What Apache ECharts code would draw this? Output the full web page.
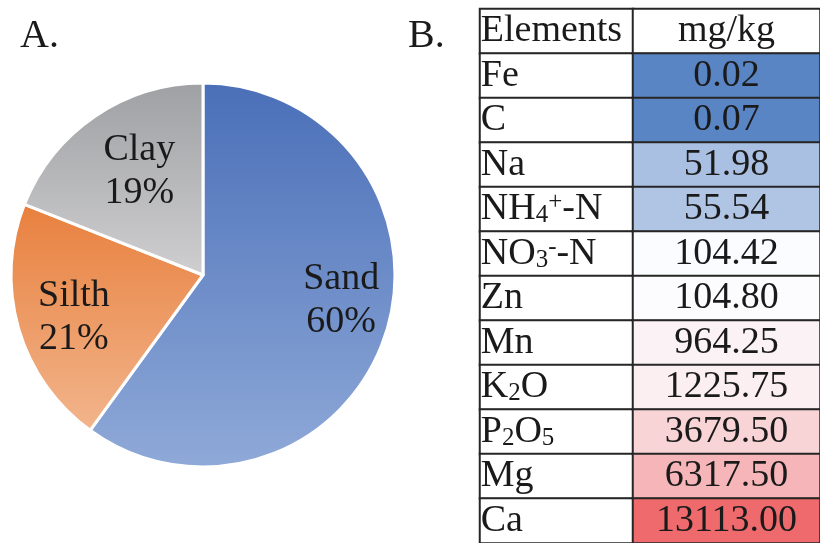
<!DOCTYPE html>
<html>
<head>
<meta charset="utf-8">
<script src="https://cdn.jsdelivr.net/npm/echarts@6/dist/echarts.min.js"></script>
<style>
  html, body { margin: 0; padding: 0; background: #fff; }
  #main { width: 820px; height: 543px; }
</style>
</head>
<body>
<div id="main"></div>
<script>
// A. soil texture
var soilClasses = ['Sand', 'Silth', 'Clay'];
var soilShares = [60, 21, 19];

// B. elements table
var tableHeader = ['Elements', 'mg/kg'];
var elementNames = ['Fe', 'C', 'Na', 'NH{sub|4}{sup|+}-N', 'NO{sub|3}{sup|-}-N', 'Zn', 'Mn',
    'K{sub|2}O', 'P{sub|2}O{sub|5}', 'Mg', 'Ca'];
var elementValues = [0.02, 0.07, 51.98, 55.54, 104.42, 104.80, 964.25, 1225.75, 3679.50, 6317.50, 13113.00];

var serif = 'Liberation Serif';
var ink = '#1a1a1a';
var lineCol = '#262626';

// slice gradients (top -> bottom)
var sliceColors = {
    Sand: ['#4a6fb8', '#8fa9d8'],
    Silth: ['#e8803e', '#f2b58c'],
    Clay: ['#9fa0a3', '#cfcfd1']
};
// nudge labels to where the original put them
var labelShift = {
    Sand: [44, -5],
    Silth: [-34, 15],
    Clay: [-8, -22]
};

var chart = echarts.init(document.getElementById('main'));

var pieData = soilClasses.map(function (name, i) {
    var c = sliceColors[name];
    return {
        name: name,
        value: soilShares[i],
        itemStyle: {
            color: new echarts.graphic.LinearGradient(0, 0, 0, 1, [
                { offset: 0, color: c[0] },
                { offset: 1, color: c[1] }
            ])
        }
    };
});

// excel style 3-colour scale: min -> median -> max
var sorted = elementValues.slice().sort(function (a, b) { return a - b; });
var vMin = sorted[0];
var vMax = sorted[sorted.length - 1];
var vMid = sorted[Math.floor(sorted.length / 2)];
function scaled(v) {
    if (v <= vMid) return (v - vMin) / (vMid - vMin);
    return 1 + (v - vMid) / (vMax - vMid);
}

var rowCount = elementNames.length + 1;
var rows = [];
for (var r = 0; r < rowCount; r++) rows.push(r);

var nameCells = [[0, 0, 0, tableHeader[0]]].concat(elementNames.map(function (n, i) {
    return [0, i + 1, 0, n];
}));
var headCell = [[0, 0, 0, tableHeader[1]]];
var valueCells = elementValues.map(function (v, i) {
    return [0, i + 1, v, scaled(v)];
});

var cellStyle = { color: '#fff', borderColor: lineCol, borderWidth: 2 };
var textBase = { fontFamily: serif, fontSize: 38, color: ink };
var richStyles = {
    sub: { fontFamily: serif, fontSize: 25, color: ink, verticalAlign: 'bottom', lineHeight: 30 },
    sup: { fontFamily: serif, fontSize: 25, color: ink, verticalAlign: 'top', lineHeight: 24 }
};

chart.setOption({
    animation: false,
    title: [
        { text: 'A.', left: 15, top: 11, textStyle: { fontFamily: serif, fontSize: 40, fontWeight: 'normal', color: ink } },
        { text: 'B.', left: 403, top: 11, textStyle: { fontFamily: serif, fontSize: 40, fontWeight: 'normal', color: ink } }
    ],
    grid: [
        { left: 480, top: 9, width: 153, height: 540 },
        { left: 633, top: 9, width: 190, height: 540 }
    ],
    xAxis: [
        { type: 'category', gridIndex: 0, data: ['name'], show: false },
        { type: 'category', gridIndex: 1, data: ['value'], show: false }
    ],
    yAxis: [
        { type: 'category', gridIndex: 0, data: rows, inverse: true, show: false },
        { type: 'category', gridIndex: 1, data: rows, inverse: true, show: false }
    ],
    visualMap: {
        type: 'continuous',
        show: false,
        seriesIndex: 3,
        dimension: 3,
        min: 0,
        max: 2,
        inRange: { color: ['#5a85c5', '#fcfcff', '#ef6a6d'] }
    },
    series: [
        {
            type: 'pie',
            center: [203, 275],
            radius: [0, 192],
            startAngle: 90,
            clockwise: true,
            data: pieData,
            itemStyle: { borderColor: '#fff', borderWidth: 3 },
            label: {
                show: true,
                position: 'inside',
                formatter: '{b}\n{c}%',
                fontFamily: serif,
                fontSize: 38,
                lineHeight: 43,
                color: ink
            },
            labelLine: { show: false },
            labelLayout: function (p) {
                var s = labelShift[soilClasses[p.dataIndex]];
                return { dx: s[0], dy: s[1] };
            },
            emphasis: { disabled: true }
        },
        {
            type: 'heatmap',
            xAxisIndex: 0,
            yAxisIndex: 0,
            data: nameCells,
            itemStyle: cellStyle,
            label: Object.assign({
                show: true,
                position: 'insideLeft',
                distance: 2,
                formatter: function (p) { return p.data[3]; },
                rich: richStyles
            }, textBase),
            emphasis: { disabled: true }
        },
        {
            type: 'heatmap',
            xAxisIndex: 1,
            yAxisIndex: 1,
            data: headCell,
            itemStyle: cellStyle,
            label: Object.assign({
                show: true,
                formatter: function (p) { return p.data[3]; }
            }, textBase),
            emphasis: { disabled: true }
        },
        {
            type: 'heatmap',
            xAxisIndex: 1,
            yAxisIndex: 1,
            data: valueCells,
            itemStyle: { borderColor: lineCol, borderWidth: 2 },
            label: Object.assign({
                show: true,
                formatter: function (p) { return p.data[2].toFixed(2); }
            }, textBase),
            emphasis: { disabled: true }
        }
    ]
});
</script>
</body>
</html>
